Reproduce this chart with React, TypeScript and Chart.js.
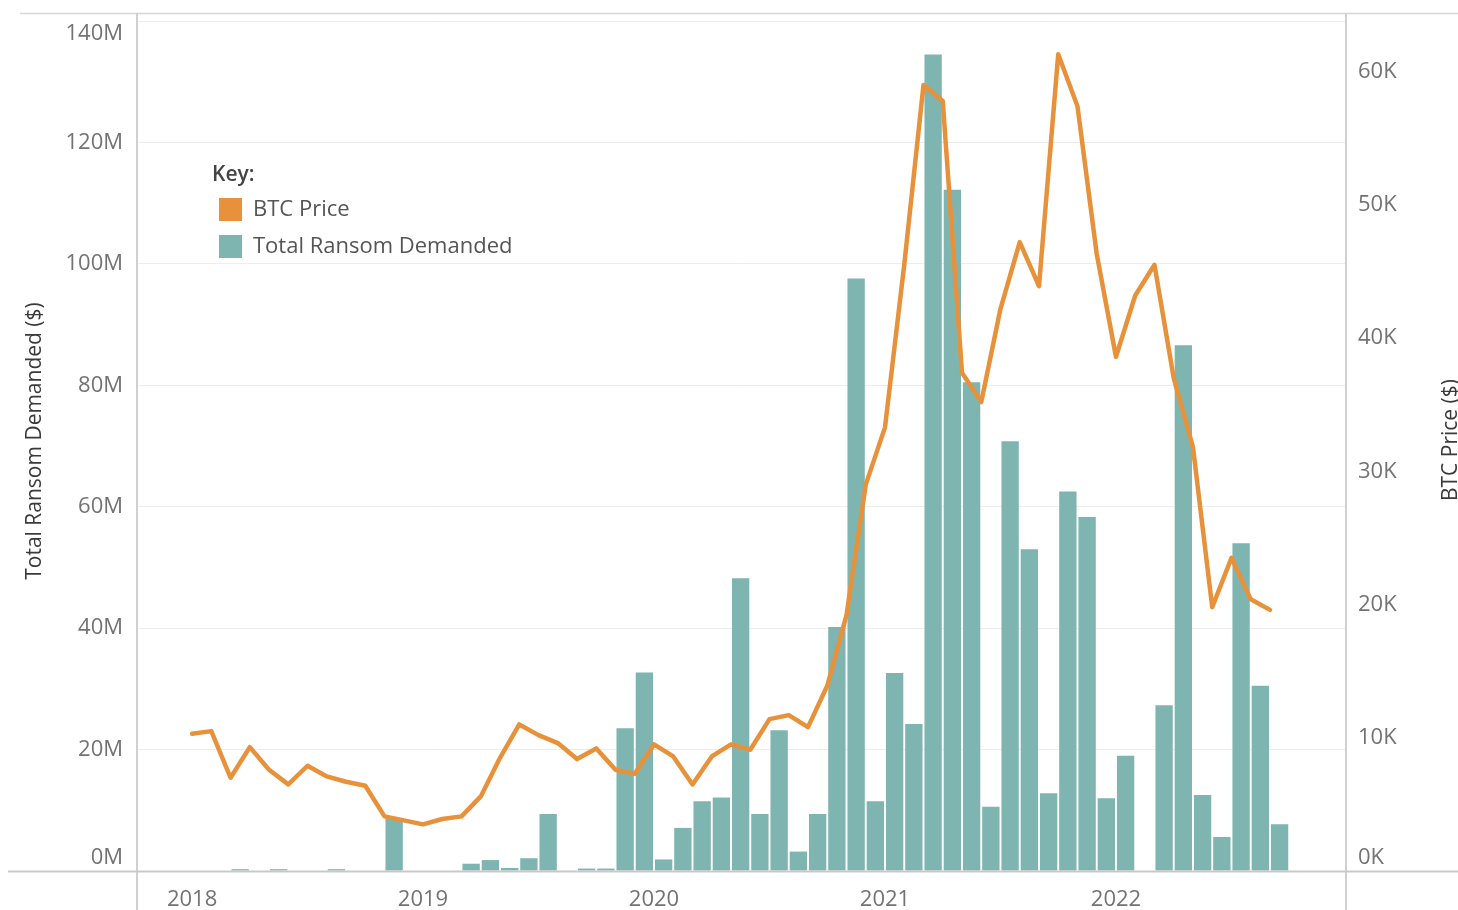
import React, { useEffect, useRef } from "react";
import { Chart, registerables } from "chart.js";

Chart.register(...registerables);

// Monthly data, index 0 = Jan 2018 ... index 56 = Sep 2022
const monthIndex: number[] = Array.from({ length: 57 }, (_, i) => i);

// Total ransom demanded per month (millions of $)
const ransomM: number[] = [
  0, 0, 0.3, 0, 0.3, 0, 0, 0.3, 0, 0, 8.6, 0,
  0, 0, 1.2, 1.8, 0.5, 2.1, 9.4, 0.1, 0.4, 0.4, 23.5, 32.7,
  1.9, 7.1, 11.5, 12.1, 48.2, 9.4, 23.2, 3.2, 9.4, 40.2, 97.6, 11.5,
  32.6, 24.2, 134.5, 112.2, 80.5, 10.6, 70.8, 53.0, 12.8, 62.5, 58.3, 12.0,
  19.0, 0, 27.3, 86.6, 12.5, 5.6, 54.0, 30.5, 7.7,
];

// BTC price per month (thousands of $)
const btcK: number[] = [
  10.3, 10.5, 7.0, 9.3, 7.6, 6.5, 7.9, 7.1, 6.7, 6.4, 4.1, 3.8,
  3.5, 3.9, 4.1, 5.6, 8.5, 11.0, 10.2, 9.6, 8.4, 9.2, 7.6, 7.3,
  9.5, 8.6, 6.5, 8.6, 9.5, 9.1, 11.4, 11.7, 10.8, 13.9, 19.2, 29.0,
  33.3, 45.5, 59.0, 57.8, 37.4, 35.2, 42.2, 47.2, 43.9, 61.3, 57.4, 46.3,
  38.6, 43.2, 45.5, 37.0, 31.8, 19.8, 23.5, 20.4, 19.6,
];

const yearLabels: string[] = ["2018", "2019", "2020", "2021", "2022"];
const yearTickMonths: number[] = [0, 12, 24, 36, 48];
const leftTicksM: number[] = [0, 20, 40, 60, 80, 100, 120, 140];
const rightTicksK: number[] = [0, 10, 20, 30, 40, 50, 60];

const TEAL = "#7eb5b0";
const ORANGE = "#e8913b";
const TICK_COLOR = "#737373";
const FONT = "'Open Sans', 'Noto Sans', sans-serif";

const framePlugin = {
  id: "frame",
  afterDraw(chart: any) {
    const ctx = chart.ctx;
    const { left, right, bottom } = chart.chartArea;
    ctx.save();
    // pane borders
    ctx.strokeStyle = "#d6d6d6";
    ctx.lineWidth = 1.5;
    ctx.beginPath();
    ctx.moveTo(20, 13.5);
    ctx.lineTo(1458, 13.5);
    ctx.stroke();
    ctx.strokeStyle = "#d0d0d0";
    ctx.lineWidth = 2;
    ctx.beginPath();
    ctx.moveTo(left, 13);
    ctx.lineTo(left, 910);
    ctx.moveTo(right, 13);
    ctx.lineTo(right, 910);
    ctx.stroke();
    ctx.strokeStyle = "#c9c9c9";
    ctx.beginPath();
    ctx.moveTo(8, bottom + 0.5);
    ctx.lineTo(1458, bottom + 0.5);
    ctx.stroke();

    // axis titles
    ctx.fillStyle = "#3a3a3a";
    ctx.font = `500 21px ${FONT}`;
    ctx.textAlign = "center";
    ctx.textBaseline = "middle";
    ctx.save();
    ctx.translate(35, 441);
    ctx.rotate(-Math.PI / 2);
    ctx.fillText("Total Ransom Demanded ($)", 0, 0);
    ctx.restore();
    ctx.save();
    ctx.translate(1451, 440);
    ctx.rotate(-Math.PI / 2);
    ctx.fillText("BTC Price ($)", 0, 0);
    ctx.restore();

    // legend ("Key")
    ctx.textAlign = "left";
    ctx.fillStyle = "#444";
    ctx.font = `600 21px ${FONT}`;
    ctx.fillText("Key:", 212, 175);
    ctx.fillStyle = ORANGE;
    ctx.fillRect(219, 198, 23, 23);
    ctx.fillStyle = TEAL;
    ctx.fillRect(219, 235, 23, 23);
    ctx.fillStyle = "#555";
    ctx.font = `22px ${FONT}`;
    ctx.fillText("BTC Price", 253, 210);
    ctx.fillText("Total Ransom Demanded", 253, 247);
    ctx.restore();
  },
};

export default function App() {
  const ref = useRef<HTMLCanvasElement | null>(null);

  useEffect(() => {
    if (!ref.current) return;
    const chart = new Chart(ref.current, {
      type: "bar",
      data: {
        datasets: [
          {
            type: "line",
            label: "BTC Price",
            data: monthIndex.map((i) => ({ x: i, y: btcK[i] * 1000 })),
            yAxisID: "y1",
            xAxisID: "x",
            borderColor: ORANGE,
            backgroundColor: ORANGE,
            borderWidth: 4.5,
            pointRadius: 0,
            tension: 0,
            borderJoinStyle: "round",
            borderCapStyle: "round",
            order: 0,
          } as any,
          {
            type: "bar",
            label: "Total Ransom Demanded",
            data: monthIndex.map((i) => ({ x: i + 0.5, y: ransomM[i] * 1e6 })),
            yAxisID: "y",
            xAxisID: "x",
            backgroundColor: TEAL,
            borderWidth: 0,
            categoryPercentage: 1,
            barPercentage: 0.9,
            order: 1,
          } as any,
        ],
      },
      options: {
        responsive: false,
        animation: false,
        devicePixelRatio: 1,
        layout: { padding: { top: 21, left: 0, right: 0, bottom: 0 } },
        plugins: {
          legend: { display: false },
          tooltip: { enabled: false },
        },
        scales: {
          x: {
            type: "linear",
            position: "bottom",
            min: -2.86,
            max: 59.95,
            offset: false,
            grid: { display: false, drawTicks: false },
            border: { display: false },
            afterBuildTicks: (scale: any) => {
              scale.ticks = yearTickMonths.map((v) => ({ value: v }));
            },
            afterFit: (scale: any) => {
              scale.height = 39;
              scale.paddingLeft = 0;
              scale.paddingRight = 0;
            },
            ticks: {
              autoSkip: false,
              maxRotation: 0,
              padding: 16,
              color: TICK_COLOR,
              font: { family: FONT, size: 22 },
              callback: (v: any) => {
                const idx = yearTickMonths.indexOf(Number(v));
                return idx >= 0 ? yearLabels[idx] : "";
              },
            },
          },
          y: {
            type: "linear",
            position: "left",
            min: 0,
            max: 140e6,
            border: { display: false },
            grid: {
              drawTicks: false,
              color: (c: any) => (c.tick && c.tick.value === 0 ? "rgba(0,0,0,0)" : "#ededed"),
              lineWidth: 1,
            },
            afterBuildTicks: (scale: any) => {
              scale.ticks = leftTicksM.map((v) => ({ value: v * 1e6 }));
            },
            afterFit: (scale: any) => {
              scale.width = 137;
              scale.paddingTop = 0;
              scale.paddingBottom = 0;
            },
            ticks: {
              padding: 14,
              color: TICK_COLOR,
              font: { family: FONT, size: 22 },
              callback: (v: any) => {
                const m = Math.round(Number(v) / 1e6);
                if (m === 0) return ["0M", ""];
                if (m === 140) return ["", "140M"];
                return `${m}M`;
              },
            },
          },
          y1: {
            type: "linear",
            position: "right",
            min: 0,
            max: 63800,
            border: { display: false },
            grid: { display: false, drawTicks: false },
            afterBuildTicks: (scale: any) => {
              scale.ticks = rightTicksK.map((v) => ({ value: v * 1000 }));
            },
            afterFit: (scale: any) => {
              scale.width = 112;
              scale.paddingTop = 0;
              scale.paddingBottom = 0;
            },
            ticks: {
              padding: 12,
              color: TICK_COLOR,
              font: { family: FONT, size: 22 },
              callback: (v: any) => {
                const k = Math.round(Number(v) / 1000);
                if (k === 0) return ["0K", ""];
                return `${k}K`;
              },
            },
          },
        },
      } as any,
      plugins: [framePlugin],
    });
    return () => chart.destroy();
  }, []);

  return (
    <div style={{ position: "absolute", left: 0, top: 0, width: 1458, height: 910, background: "#fff" }}>
      <canvas ref={ref} width={1458} height={910} style={{ display: "block" }} />
    </div>
  );
}
